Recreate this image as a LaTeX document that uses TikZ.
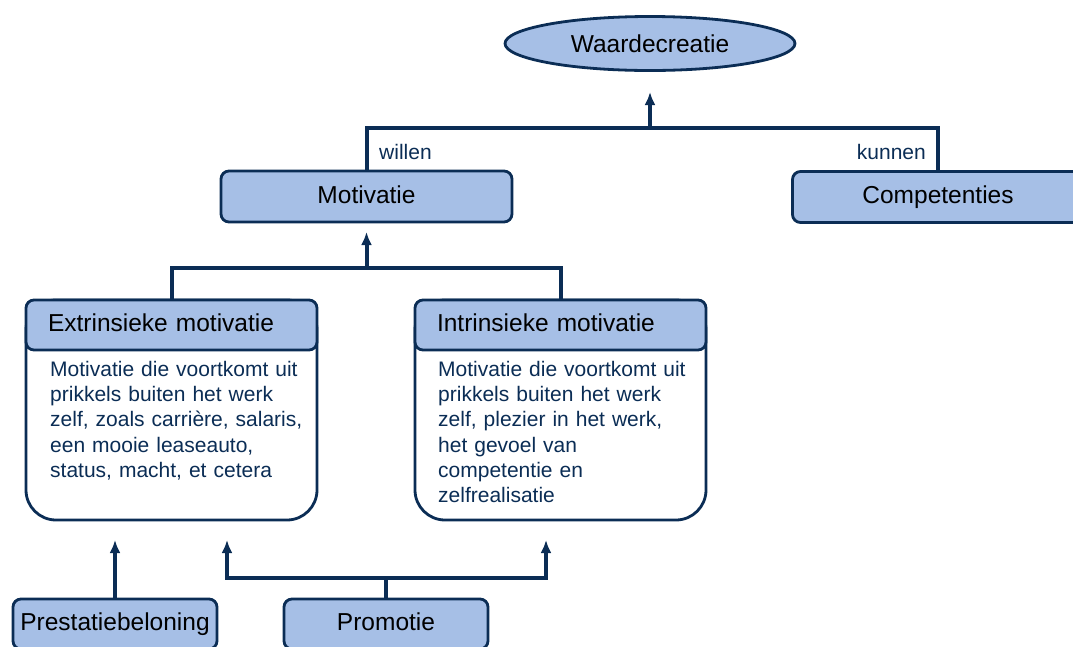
\documentclass[tikz,border=0pt]{standalone}
\usepackage{fontspec}
\setmainfont{Liberation Sans}
\usetikzlibrary{arrows.meta, shapes.geometric, positioning}
\definecolor{boxblue}{HTML}{A6BFE6}
\definecolor{navy}{HTML}{0B2D55}
\tikzset{
  big/.style={font=\fontsize{24.5}{29}\selectfont},
  doel/.style={ellipse, draw=navy, line width=2.8pt, fill=boxblue,
               minimum width=290pt, minimum height=54pt, big},
  blok/.style={rectangle, rounded corners=8pt, draw=navy, line width=2.8pt,
               fill=boxblue, minimum width=291pt, minimum height=51pt, big,
               text height=18pt, text depth=5pt},
  kop/.style={blok, minimum width=0pt, text width=247pt, inner xsep=22pt,
              align=left, minimum height=50pt},
  kaart/.style={rectangle, rounded corners=30pt, draw=navy, line width=2.8pt,
                fill=white, minimum width=291pt, minimum height=220pt},
  uitleg/.style={text=navy, font=\fontsize{21}{25.2}\selectfont,
                 text width=265pt, align=left, inner sep=0pt},
  lbl/.style={text=navy, font=\fontsize{21}{25}\selectfont, inner sep=0pt},
  lijn/.style={draw=navy, line width=4pt},
  pijl/.style={lijn, -{Latex[length=13pt,width=11pt]}}
}
\begin{document}
\begin{tikzpicture}[x=1pt,y=-1pt]
  \useasboundingbox (0,0) rectangle (1073,646);

  % top level
  \node[doel] (wc) at (650,43.5) {Waardecreatie};
  \node[blok] (motiv) at (366.5,196.5) {Motivatie};
  \node[blok] (comp) at (938,197) {Competenties};
  \node[lbl, anchor=west] (willen) at (379,152) {willen};
  \node[lbl, anchor=east] (kunnen) at (926,152) {kunnen};

  % motivatie cards
  \node[kaart] (ext) at (171.5,410) {};
  \node[kop, anchor=north] (exthead) at (ext.north) {Extrinsieke motivatie};
  \node[uitleg, anchor=north west] (exttxt) at (50,361)
    {Motivatie die voortkomt uit\\ prikkels buiten het werk\\
     zelf, zoals carrière, salaris,\\ een mooie leaseauto,\\
     status, macht, et cetera};
  \node[kaart] (int) at (560.5,410) {};
  \node[kop, anchor=north] (inthead) at (int.north) {Intrinsieke motivatie};
  \node[uitleg, anchor=north west] (inttxt) at (438,361)
    {Motivatie die voortkomt uit\\ prikkels buiten het werk\\
     zelf, plezier in het werk,\\ het gevoel van\\
     competentie en\\ zelfrealisatie};

  % bottom
  \node[blok, minimum width=204pt, minimum height=50pt] (prest) at (115,624) {Prestatiebeloning};
  \node[blok, minimum width=204pt, minimum height=50pt] (prom) at (386,624) {Promotie};

  % connectors
  \coordinate (wcjoin) at (650,128);
  \coordinate (wctip) at (650,92);
  \draw[lijn] (motiv.north) |- (wcjoin) -| (comp.north);
  \draw[pijl] (wcjoin) -- (wctip);

  \coordinate (motivjoin) at (366.5,268);
  \coordinate (motivtip) at (366.5,232);
  \draw[lijn] (exthead.north) |- (motivjoin) -| (inthead.north);
  \draw[pijl] (motivjoin) -- (motivtip);

  \coordinate (exttip) at (115,540);
  \draw[pijl] (prest.north) -- (exttip);

  \coordinate (promjoin) at (386,578);
  \coordinate (promtip1) at (227,540);
  \coordinate (promtip2) at (546,540);
  \draw[lijn] (prom.north) -- (promjoin);
  \draw[pijl] (promjoin) -| (promtip1);
  \draw[pijl] (promjoin) -| (promtip2);
\end{tikzpicture}
\end{document}
